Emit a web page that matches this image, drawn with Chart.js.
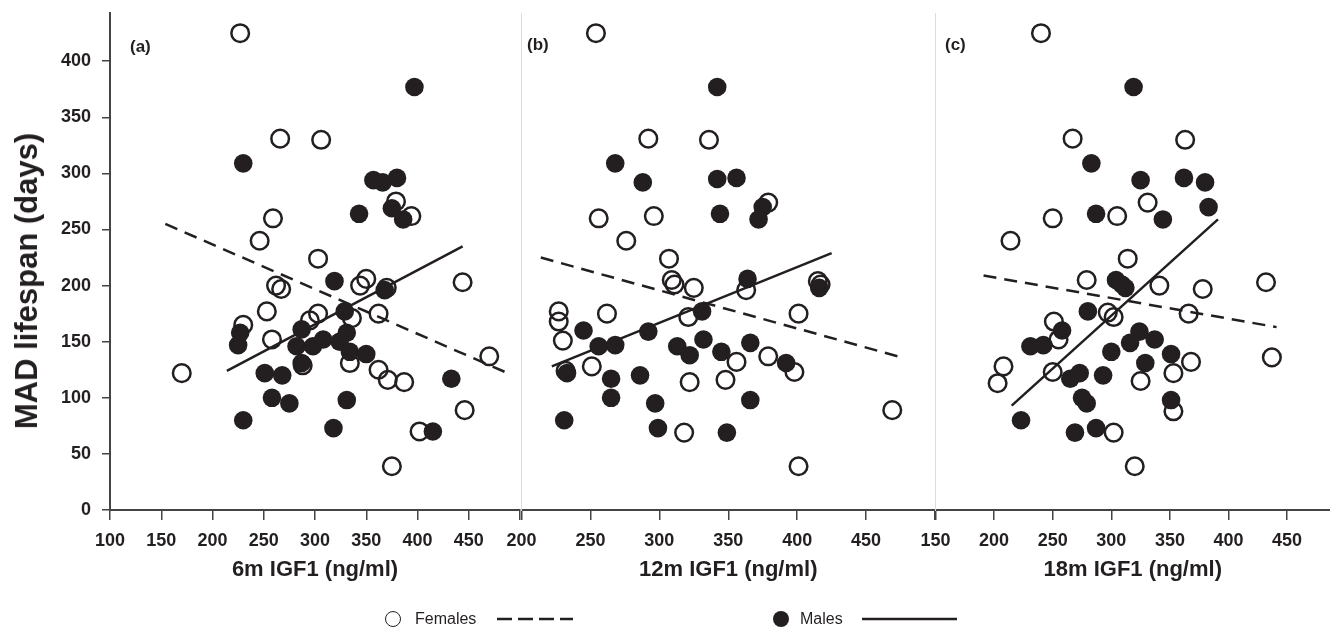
<!DOCTYPE html>
<html><head><meta charset="utf-8">
<script src="https://cdn.jsdelivr.net/npm/chart.js@4.4.1/dist/chart.umd.min.js"></script>
<style>
html,body{margin:0;padding:0;background:#fff;}
#wrap{position:relative;width:1330px;height:633px;overflow:hidden;font-family:"Liberation Sans",Arial,sans-serif;color:#231f20;}
canvas{position:absolute;left:0;top:0;}
.ytitle{position:absolute;left:27px;top:281px;transform:translate(-50%,-50%) rotate(-90deg);white-space:nowrap;font-weight:bold;font-size:31px;}
.plab{position:absolute;font-weight:bold;font-size:17px;}
.leg{position:absolute;font-size:16px;white-space:nowrap;}
.sym{position:absolute;border-radius:50%;box-sizing:border-box;}
</style></head>
<body>
<div id="wrap">
<canvas id="cA" width="1330" height="633"></canvas>
<canvas id="cB" width="1330" height="633"></canvas>
<canvas id="cC" width="1330" height="633"></canvas>
<div class="ytitle">MAD lifespan (days)</div>
<div class="plab" style="left:130px;top:37px;">(a)</div>
<div class="plab" style="left:527px;top:35px;">(b)</div>
<div class="plab" style="left:945px;top:35px;">(c)</div>
<div class="sym" style="left:385px;top:611px;width:16px;height:16px;border:1.5px solid #231f20;"></div>
<div class="leg" style="left:415px;top:610px;">Females</div>
<svg style="position:absolute;left:497px;top:614px;" width="80" height="10"><line x1="0" y1="5" x2="76" y2="5" stroke="#231f20" stroke-width="2.5" stroke-dasharray="15,6"/></svg>
<div class="sym" style="left:773px;top:611px;width:16px;height:16px;background:#231f20;"></div>
<div class="leg" style="left:800px;top:610px;">Males</div>
<svg style="position:absolute;left:862px;top:614px;" width="100" height="10"><line x1="0" y1="5" x2="95" y2="5" stroke="#231f20" stroke-width="2.5"/></svg>
</div>
<script>
// ---- data (IGF1 ng/ml, MAD lifespan days) ----
const femalesA = [[227,425],[266,331],[306,330],[259,260],[246,240],[303,224],[262,200],[267,197],[344,200],[350,206],[370,198],[444,203],[379,275],[394,262],[253,177],[303,175],[362,175],[230,165],[295,169],[336,171],[258,152],[288,129],[334,131],[362,125],[371,116],[387,114],[446,89],[402,70],[470,137],[170,122],[375,39]];
const malesA = [[397,377],[230,309],[357,294],[366,292],[380,296],[343,264],[375,269],[386,259],[319,204],[368,196],[329,177],[287,161],[227,158],[225,147],[331,158],[282,146],[298,146],[308,152],[324,150],[334,141],[350,139],[287,131],[251,122],[268,120],[258,100],[275,95],[331,98],[230,80],[318,73],[433,117],[415,70]];
const femalesB = [[254,425],[292,331],[336,330],[379,274],[256,260],[296,262],[276,240],[307,224],[309,205],[311,201],[325,198],[363,196],[401,175],[227,177],[227,168],[262,175],[321,172],[415,204],[417,201],[230,151],[251,128],[356,132],[379,137],[398,123],[322,114],[348,116],[318,69],[469,89],[401,39],[232,124]];
const malesB = [[342,377],[268,309],[288,292],[342,295],[356,296],[344,264],[375,270],[372,259],[364,206],[331,177],[416,198],[245,160],[256,146],[268,147],[292,159],[313,146],[322,138],[332,152],[345,141],[366,149],[392,131],[233,122],[265,117],[286,120],[265,100],[297,95],[366,98],[231,80],[299,73],[349,69]];
const femalesC = [[240,425],[267,331],[363,330],[331,274],[250,260],[305,262],[214,240],[314,224],[279,205],[341,200],[378,197],[432,203],[366,175],[297,176],[302,172],[251,168],[255,152],[208,128],[203,113],[250,123],[368,132],[353,122],[325,115],[353,88],[302,69],[437,136],[320,39]];
const malesC = [[319,377],[283,309],[325,294],[362,296],[380,292],[287,264],[344,259],[383,270],[304,205],[309,201],[312,198],[280,177],[258,160],[231,146],[242,147],[324,159],[316,149],[337,152],[300,141],[351,139],[329,131],[265,117],[273,122],[293,120],[275,100],[279,95],[351,98],[223,80],[269,69],[287,73]];
// regression line end points
const fitFemA = [[154,255],[488,122]], fitMalA = [[214,124],[444,235]];
const fitFemB = [[214,225],[476,136]], fitMalB = [[222,128],[425,229]];
const fitFemC = [[191,209],[441,163]], fitMalC = [[215,93],[391,259]];
// axes
const yTicks = [0,50,100,150,200,250,300,350,400];
const xTicks = [100,150,200,250,300,350,400,450,500];
const xTitles = ['6m IGF1 (ng/ml)','12m IGF1 (ng/ml)','18m IGF1 (ng/ml)'];

const INK = '#231f20';
const FONT = '"Liberation Sans", Arial, sans-serif';
const pts = a => a.map(([x,y]) => ({x, y}));
const setTicks = vals => s => { s.ticks = vals.filter(v => v >= s.min - 1e-9 && v <= s.max + 1e-9).map(v => ({value: v})); };

function make(id, o) {
  const yScale = o.showY ? {
    min: 0, max: 443,
    afterBuildTicks: setTicks(yTicks),
    ticks: {color: INK, padding: 11, font: {family: FONT, size: 18, weight: 'bold'}},
    grid: {drawOnChartArea: false, drawTicks: true, tickLength: 8, color: '#444', lineWidth: 1.5},
    border: {display: true, color: '#444', width: 2},
    afterFit: s => { s.width = 110; s.paddingTop = 0; s.paddingBottom = 0; }
  } : {
    min: 0, max: 443,
    ticks: {display: false},
    grid: {display: false},
    border: {display: true, color: '#dcdcdc', width: 1},
    afterFit: s => { s.width = 0; s.paddingTop = 0; s.paddingBottom = 0; }
  };
  return new Chart(document.getElementById(id), {
    type: 'scatter',
    data: {datasets: [
      {data: pts(o.fem), pointStyle: 'circle', pointRadius: 8.8, pointBorderWidth: 2.5, pointBorderColor: INK, pointBackgroundColor: 'rgba(255,255,255,0)', showLine: false, clip: false},
      {data: pts(o.mal), pointStyle: 'circle', pointRadius: 9.3, pointBorderWidth: 0, pointBackgroundColor: INK, pointBorderColor: INK, showLine: false, clip: false},
      {data: pts(o.fitF), showLine: true, pointRadius: 0, borderColor: INK, borderWidth: 2.5, borderDash: [13, 8], clip: false},
      {data: pts(o.fitM), showLine: true, pointRadius: 0, borderColor: INK, borderWidth: 2.5, clip: false}
    ]},
    options: {
      responsive: false, animation: false, events: [],
      layout: {autoPadding: false, padding: {left: o.padL, right: o.padR, top: 13, bottom: 0}},
      plugins: {legend: {display: false}, tooltip: {enabled: false}},
      scales: {
        x: {
          type: 'linear', min: o.xmin, max: o.xmax,
          afterBuildTicks: setTicks(xTicks),
          ticks: {autoSkip: false, maxRotation: 0, color: INK, padding: 10,
                  font: {family: FONT, size: 18, weight: 'bold'},
                  callback: v => (v === 500 ? '' : String(v))},
          grid: {drawOnChartArea: false, drawTicks: true, tickLength: 10, color: '#444', lineWidth: 1.5},
          border: {display: true, color: '#444', width: 2},
          title: {display: true, text: o.title, color: INK, font: {family: FONT, size: 22, weight: 'bold'}, padding: {top: 0, bottom: 50}},
          afterFit: s => { s.height = 123; s.paddingLeft = 0; s.paddingRight = 0; }
        },
        y: yScale
      }
    }
  });
}

make('cA', {showY: true, padL: 0, padR: 810, xmin: 100, xmax: 500, fem: femalesA, mal: malesA, fitF: fitFemA, fitM: fitMalA, title: xTitles[0]});
make('cB', {showY: false, padL: 521.5, padR: 395, xmin: 200, xmax: 500, fem: femalesB, mal: malesB, fitF: fitFemB, fitM: fitMalB, title: xTitles[1]});
make('cC', {showY: false, padL: 935.5, padR: 0, xmin: 150, xmax: 486.6, fem: femalesC, mal: malesC, fitF: fitFemC, fitM: fitMalC, title: xTitles[2]});
</script>
</body></html>
